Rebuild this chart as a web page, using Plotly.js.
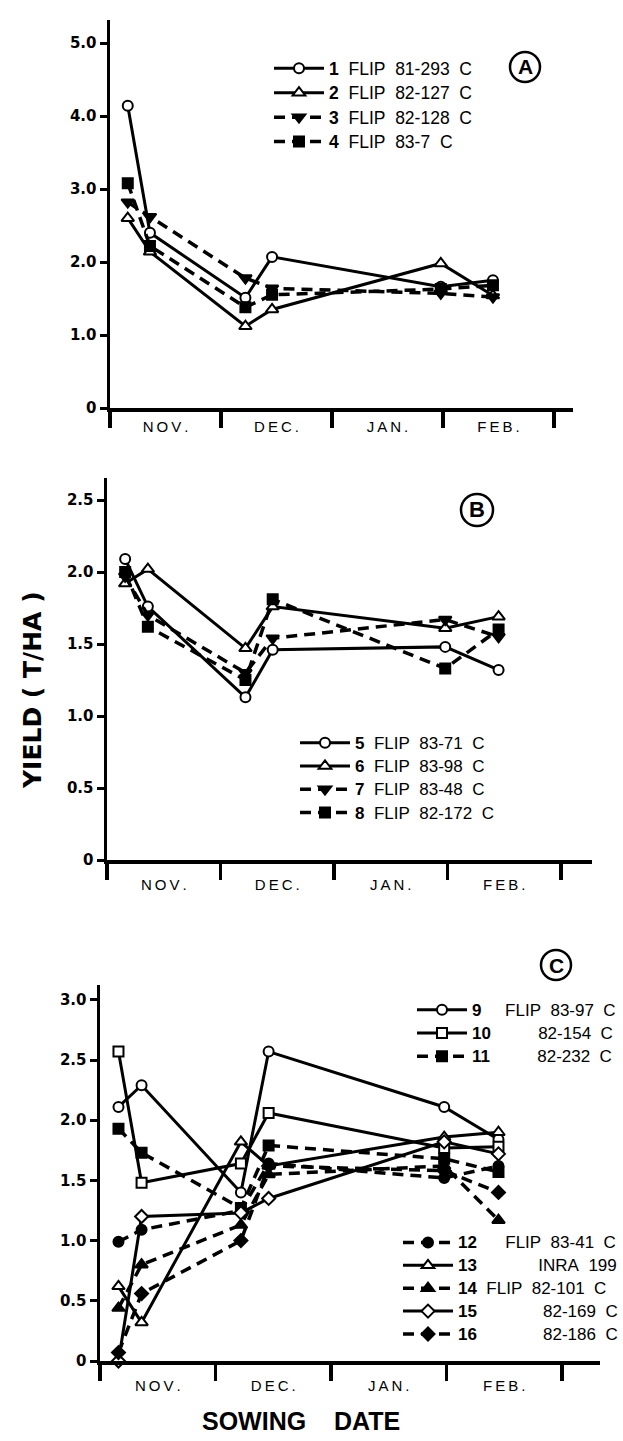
<!DOCTYPE html>
<html><head><meta charset="utf-8">
<script src="https://cdn.plot.ly/plotly-3.0.1.min.js"></script>
<style>html,body{margin:0;padding:0;background:#fff}</style>
</head><body><div id="chart" style="width:623px;height:1441px"></div>
<script>
// ---- DATA ----
// sowing dates in months after 1 November (0 = 1 Nov, 1 = 1 Dec, ...)
const sowingDates = [0.16, 0.36, 1.22, 1.46, 2.98, 3.45];
const monthLabels = ['NOV.', 'DEC.', 'JAN.', 'FEB.'];
const monthBounds = [0, 1, 2, 3, 4];

// Panel A (t/ha)
const yield1 = [4.14, 2.40, 1.51, 2.07, 1.66, 1.75];
const yield2 = [2.60, 2.14, 1.12, 1.35, 1.98, 1.54];
const yield3 = [2.82, 2.62, 1.78, 1.64, 1.57, 1.52];
const yield4 = [3.08, 2.22, 1.38, 1.55, 1.63, 1.68];
// Panel B
const yield5 = [2.09, 1.76, 1.13, 1.46, 1.48, 1.32];
const yield6 = [1.92, 2.02, 1.47, 1.76, 1.61, 1.69];
const yield7 = [1.97, 1.70, 1.30, 1.54, 1.67, 1.55];
const yield8 = [2.00, 1.62, 1.25, 1.81, 1.33, 1.60];
// Panel C
const yield9  = [2.11, 2.29, 1.40, 2.57, 2.11, 1.84];
const yield10 = [2.57, 1.48, 1.64, 2.06, 1.77, 1.78];
const yield11 = [1.93, 1.73, 1.27, 1.79, 1.68, 1.57];
const yield12 = [0.99, 1.09, 1.25, 1.64, 1.52, 1.62];
const yield13 = [0.62, 0.32, 1.82, 1.62, 1.86, 1.90];
const yield14 = [0.44, 0.80, 1.13, 1.55, 1.62, 1.17];
const yield15 = [0.00, 1.20, 1.23, 1.35, 1.82, 1.72];
const yield16 = [0.07, 0.56, 1.00, 1.62, 1.58, 1.40];

const ticksA = [0, 1, 2, 3, 4, 5];
const tickTextA = ['0', '1.0', '2.0', '3.0', '4.0', '5.0'];
const ticksBC = [0, 0.5, 1, 1.5, 2, 2.5, 3];
const tickTextBC = ['0', '0.5', '1.0', '1.5', '2.0', '2.5', '3.0'];

// ---- STYLE ----
const NB = '\u00a0';
function pad(n){ return NB.repeat(n); }
function words(s){ return s.split(' ').join(NB + NB); }
function lab(num, gap, text, size){
  return '<span style="font-size:' + size + 'px"><b>' + num + '</b>' + pad(gap) + words(text) + '</span>';
}
const fontText = 'Liberation Sans, Arial, sans-serif';
const fontBold = 'DejaVu Sans, sans-serif';

const sym = {
  oc: {symbol:'circle', color:'#fff'},
  ot: {symbol:'triangle-up', color:'#fff'},
  fd: {symbol:'triangle-down', color:'#000'},
  fu: {symbol:'triangle-up', color:'#000'},
  fs: {symbol:'square', color:'#000'},
  os: {symbol:'square', color:'#fff'},
  fc: {symbol:'circle', color:'#000'},
  od: {symbol:'diamond', color:'#fff'},
  fdi:{symbol:'diamond', color:'#000'}
};

const series = [
  {y: yield1, s:'oc', d:'solid', p:1, lg:'legend',  lab: lab('1', 2, 'FLIP 81-293 C', 17.5)},
  {y: yield2, s:'ot', d:'solid', p:1, lg:'legend',  lab: lab('2', 2, 'FLIP 82-127 C', 17.5)},
  {y: yield3, s:'fd', d:'dash',  p:1, lg:'legend',  lab: lab('3', 2, 'FLIP 82-128 C', 17.5)},
  {y: yield4, s:'fs', d:'dash',  p:1, lg:'legend',  lab: lab('4', 2, 'FLIP 83-7 C', 17.5)},
  {y: yield5, s:'oc', d:'solid', p:2, lg:'legend2', lab: lab('5', 2, 'FLIP 83-71 C', 17)},
  {y: yield6, s:'ot', d:'solid', p:2, lg:'legend2', lab: lab('6', 2, 'FLIP 83-98 C', 17)},
  {y: yield7, s:'fd', d:'dash',  p:2, lg:'legend2', lab: lab('7', 2, 'FLIP 83-48 C', 17)},
  {y: yield8, s:'fs', d:'dash',  p:2, lg:'legend2', lab: lab('8', 2, 'FLIP 82-172 C', 17)},
  {y: yield9,  s:'oc', d:'solid', p:3, lg:'legend3', lab: lab('9', 5, 'FLIP 83-97 C', 17)},
  {y: yield10, s:'os', d:'solid', p:3, lg:'legend3', lab: lab('10', 10, '82-154 C', 17)},
  {y: yield11, s:'fs', d:'dash',  p:3, lg:'legend3', lab: lab('11', 10, '82-232 C', 17)},
  {y: yield12, s:'fc', d:'dash',  p:3, lg:'legend4', lab: lab('12', 6, 'FLIP 83-41 C', 17)},
  {y: yield13, s:'ot', d:'solid', p:3, lg:'legend4', lab: lab('13', 13, 'INRA 199', 17)},
  {y: yield14, s:'fu', d:'dash',  p:3, lg:'legend4', lab: lab('14', 2, 'FLIP 82-101 C', 17)},
  {y: yield15, s:'od', d:'solid', p:3, lg:'legend4', lab: lab('15', 14, '82-169 C', 17)},
  {y: yield16, s:'fdi',d:'dash',  p:3, lg:'legend4', lab: lab('16', 14, '82-186 C', 17)}
];

const axisIds = {1:['x','y'], 2:['x2','y2'], 3:['x3','y3']};
const traces = series.map(function(o){
  const st = sym[o.s];
  const dashed = o.d === 'dash';
  return {
    type: 'scatter', mode: 'lines+markers',
    x: sowingDates, y: o.y,
    xaxis: axisIds[o.p][0], yaxis: axisIds[o.p][1],
    name: o.lab, legend: o.lg,
    cliponaxis: false,
    line: {color:'#000', width: dashed ? 3.5 : 3, dash: dashed ? '11px,7px' : 'solid'},
    marker: {symbol: st.symbol, size: (st.symbol.indexOf('triangle')===0 ? 11 : 10),
             color: st.color, line: {color:'#000', width: 2}}
  };
});

const W = 623, H = 1441;
function fx(px){ return px / W; }
function fy(py){ return 1 - py / H; }

function xAxis(left, right, pxPerMonth, standoff){
  return {
    domain: [fx(left), fx(right)],
    range: [0, (right - left) / pxPerMonth],
    showline: true, linewidth: 3.5, linecolor: '#000',
    showgrid: false, zeroline: false,
    tickmode: 'array', tickvals: [0.5, 1.5, 2.5, 3.5],
    ticktext: monthLabels.map(function(m){return m.split('').join('\u2009');}),
    ticks: '', ticklabelstandoff: standoff,
    tickfont: {family: fontText, size: 15, color: '#000'},
    minor: {tickmode: 'array', tickvals: monthBounds, ticks: 'outside', ticklen: 16, tickwidth: 3.5, tickcolor: '#000', showgrid: false},
    fixedrange: true
  };
}
function yAxis(bottom, top, pxPerUnit, tv, tt){
  return {
    domain: [fy(bottom), fy(top)],
    range: [0, (bottom - top) / pxPerUnit],
    showline: true, linewidth: 3.5, linecolor: '#000',
    showgrid: false, zeroline: false,
    tickmode: 'array', tickvals: tv, ticktext: tt,
    ticks: 'outside', ticklen: 7, tickwidth: 3, tickcolor: '#000',
    tickfont: {family: fontBold, size: 15, color: '#000', weight: 'bold'},
    fixedrange: true
  };
}
function legendBox(left, top, size){
  return {x: fx(left), y: fy(top), xanchor:'left', yanchor:'top', bgcolor:'rgba(0,0,0,0)',
          itemwidth: 50, font:{family: fontText, size: size, color:'#000'}, itemclick:false};
}

const layout = {
  width: W, height: H,
  margin: {l:0, r:0, t:0, b:0},
  paper_bgcolor: '#fff', plot_bgcolor: 'rgba(0,0,0,0)',
  showlegend: true,
  xaxis:  Object.assign(xAxis(110, 573, 111, 2), {anchor:'y'}),
  yaxis:  Object.assign(yAxis(408, 20, 73, ticksA, tickTextA), {anchor:'x'}),
  xaxis2: Object.assign(xAxis(107, 592, 113.5, 8), {anchor:'y2'}),
  yaxis2: Object.assign(yAxis(860, 478, 144, ticksBC.slice(0,6), tickTextBC.slice(0,6)), {anchor:'x2'}),
  xaxis3: Object.assign(xAxis(100, 600, 115.5, 8), {anchor:'y3'}),
  yaxis3: Object.assign(yAxis(1361, 985, 120.4, ticksBC, tickTextBC), {anchor:'x3'}),
  legend:  legendBox(269, 51, 16.5),
  legend2: legendBox(295, 726, 15.6),
  legend3: legendBox(412, 993, 15.6),
  legend4: legendBox(398, 1226, 15.3),
  shapes: [
    {type:'circle', xref:'paper', yref:'paper', x0: fx(510), x1: fx(540), y0: fy(82), y1: fy(52), line:{color:'#000', width:2.5}},
    {type:'circle', xref:'paper', yref:'paper', x0: fx(461), x1: fx(493), y0: fy(526), y1: fy(494), line:{color:'#000', width:2.5}},
    {type:'circle', xref:'paper', yref:'paper', x0: fx(541), x1: fx(571), y0: fy(980), y1: fy(950), line:{color:'#000', width:2.5}}
  ],
  annotations: [
    {text:'A', xref:'paper', yref:'paper', x: fx(525), y: fy(67), showarrow:false, xanchor:'center', yanchor:'middle', font:{family: fontText, size: 21, color:'#000', weight:'bold'}},
    {text:'B', xref:'paper', yref:'paper', x: fx(477), y: fy(510), showarrow:false, xanchor:'center', yanchor:'middle', font:{family: fontText, size: 22, color:'#000', weight:'bold'}},
    {text:'C', xref:'paper', yref:'paper', x: fx(556), y: fy(965), showarrow:false, xanchor:'center', yanchor:'middle', font:{family: fontText, size: 21, color:'#000', weight:'bold'}},
    {text:'YIELD ( T/HA )', xref:'paper', yref:'paper', x: fx(32), y: fy(690), textangle: -90, showarrow:false, xanchor:'center', yanchor:'middle', font:{family: fontBold, size: 25, color:'#000', weight:'bold'}},
    {text:'SOWING'+pad(4)+'DATE', xref:'paper', yref:'paper', x: fx(301), y: fy(1421), showarrow:false, xanchor:'center', yanchor:'middle', font:{family: fontText, size: 25, color:'#000', weight:'bold'}}
  ]
};

Plotly.newPlot('chart', traces, layout, {staticPlot: true, displayModeBar: false});
</script></body></html>
